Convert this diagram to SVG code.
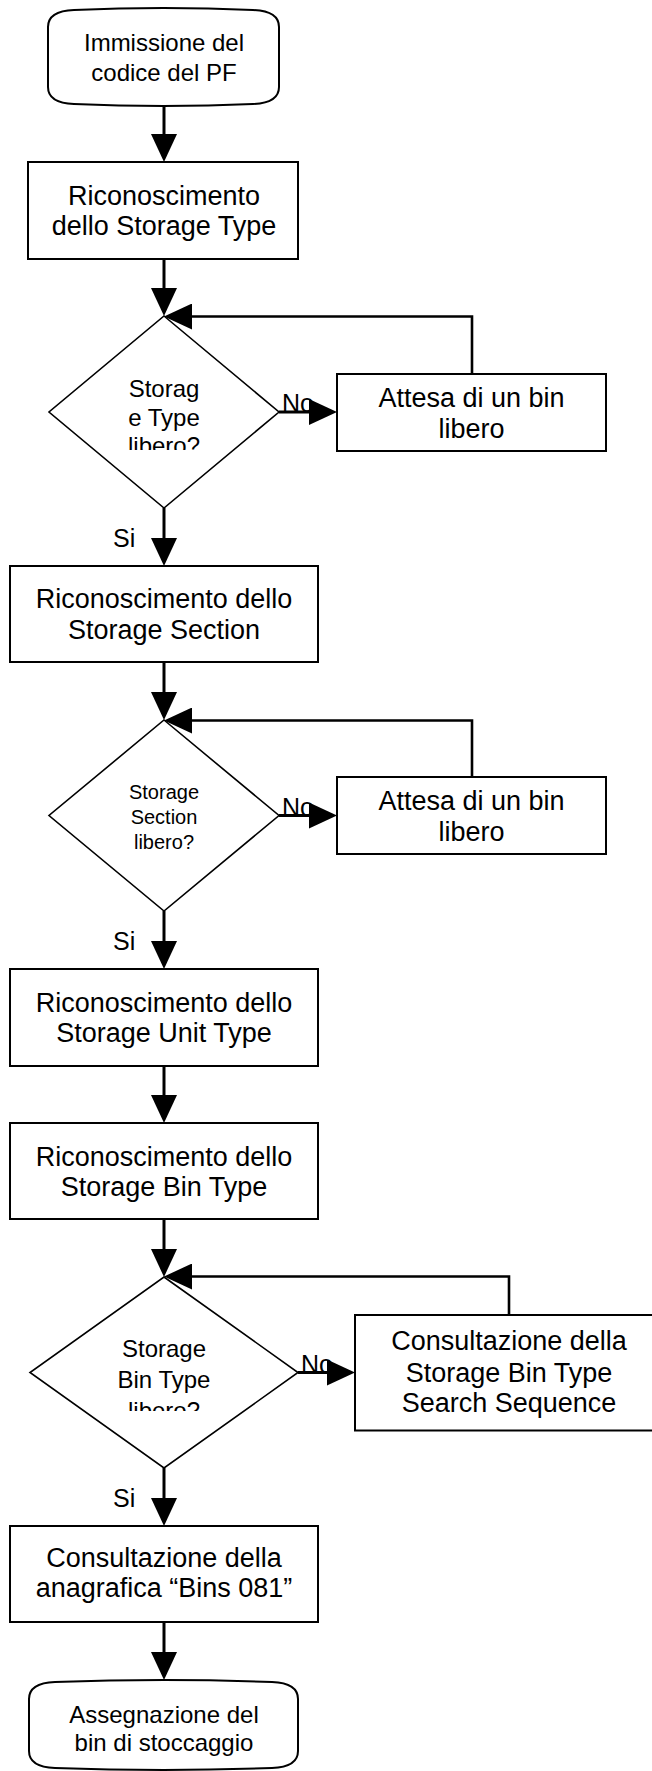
<svg xmlns="http://www.w3.org/2000/svg" width="652" height="1771" viewBox="0 0 652 1771">
  <style>
    .box { fill: #fff; stroke: #000; stroke-width: 2; }
    .term { fill: #fff; stroke: #000; stroke-width: 2; }
    .dia { fill: #fff; stroke: #000; stroke-width: 1.6; }
    .conn { fill: none; stroke: #000; stroke-width: 3; }
    .loop { fill: none; stroke: #000; stroke-width: 2.6; }
    text { font-family: "Liberation Sans", Arial, sans-serif; fill: #000; text-anchor: middle; }
    .t27 { font-size: 27px; }
    .t24 { font-size: 24px; }
    .t20 { font-size: 20px; }
    .lbl { font-size: 25px; text-anchor: start; }
  </style>
  <defs>
    <marker id="arrow" markerUnits="userSpaceOnUse" markerWidth="28" markerHeight="26" refX="22" refY="13" orient="auto">
      <path d="M0,0 L28,13 L0,26 Z" fill="#000"/>
    </marker>
    <clipPath id="clip-d1"><rect x="60" y="360" width="210" height="90"/></clipPath>
    <clipPath id="clip-d3"><rect x="60" y="1320" width="210" height="91"/></clipPath>
  </defs>

  <!-- start terminal: rounded ends with slightly bowed top and bottom -->
  <g id="start">
    <path class="term" d="M48,27 Q48,11 74,10 Q163.5,6 253,10 Q279,11 279,27 L279,87 Q279,103 253,104 Q163.5,108 74,104 Q48,103 48,87 Z"/>
    <text class="t24" x="164" y="51">Immissione del</text>
    <text class="t24" x="164" y="81">codice del PF</text>
  </g>

  <g id="storage-type">
    <rect class="box" x="28" y="162" width="270" height="97"/>
    <text class="t27" x="164" y="205">Riconoscimento</text>
    <text class="t27" x="164" y="235">dello Storage Type</text>
  </g>

  <g id="decision-type">
    <polygon class="dia" points="164,316 279,412 164,508 49,412"/>
    <g clip-path="url(#clip-d1)">
      <text class="t24" x="164" y="397">Storag</text>
      <text class="t24" x="164" y="425.5">e Type</text>
      <text class="t24" x="164" y="454">libero?</text>
    </g>
  </g>

  <g id="wait-type">
    <rect class="box" x="337" y="374" width="269" height="77"/>
    <text class="t27" x="471.5" y="406.5">Attesa di un bin</text>
    <text class="t27" x="471.5" y="438">libero</text>
  </g>

  <g id="storage-section">
    <rect class="box" x="10" y="566" width="308" height="96"/>
    <text class="t27" x="164" y="608">Riconoscimento dello</text>
    <text class="t27" x="164" y="639">Storage Section</text>
  </g>

  <g id="decision-section">
    <polygon class="dia" points="164,720 279,815.5 164,911 49,815.5"/>
    <text class="t20" x="164" y="799">Storage</text>
    <text class="t20" x="164" y="823.5">Section</text>
    <text class="t20" x="164" y="848.5">libero?</text>
  </g>

  <g id="wait-section">
    <rect class="box" x="337" y="777" width="269" height="77"/>
    <text class="t27" x="471.5" y="809.5">Attesa di un bin</text>
    <text class="t27" x="471.5" y="841">libero</text>
  </g>

  <g id="storage-unit-type">
    <rect class="box" x="10" y="969" width="308" height="97"/>
    <text class="t27" x="164" y="1011.5">Riconoscimento dello</text>
    <text class="t27" x="164" y="1042">Storage Unit Type</text>
  </g>

  <g id="storage-bin-type">
    <rect class="box" x="10" y="1123" width="308" height="96"/>
    <text class="t27" x="164" y="1165.5">Riconoscimento dello</text>
    <text class="t27" x="164" y="1196">Storage Bin Type</text>
  </g>

  <g id="decision-bin">
    <polygon class="dia" points="164,1277 298,1372.5 164,1468 30,1372.5"/>
    <g clip-path="url(#clip-d3)">
      <text class="t24" x="164" y="1357">Storage</text>
      <text class="t24" x="164" y="1388">Bin Type</text>
      <text class="t24" x="164" y="1419">libero?</text>
    </g>
  </g>

  <g id="search-sequence">
    <rect class="box" x="355" y="1315" width="308" height="115.5"/>
    <text class="t27" x="509" y="1350">Consultazione della</text>
    <text class="t27" x="509" y="1381.5">Storage Bin Type</text>
    <text class="t27" x="509" y="1412">Search Sequence</text>
  </g>

  <g id="bins-081">
    <rect class="box" x="10" y="1526" width="308" height="96"/>
    <text class="t27" x="164" y="1566.5">Consultazione della</text>
    <text class="t27" x="164" y="1596.5">anagrafica “Bins 081”</text>
  </g>

  <!-- end terminal -->
  <g id="end">
    <path class="term" d="M29,1699 Q29,1683 55,1682 Q163.5,1678 272,1682 Q298,1683 298,1699 L298,1751 Q298,1767 272,1768 Q163.5,1772 55,1768 Q29,1767 29,1751 Z"/>
    <text class="t24" x="164" y="1723">Assegnazione del</text>
    <text class="t24" x="164" y="1751">bin di stoccaggio</text>
  </g>

  <!-- branch labels -->
  <g id="labels">
    <text class="lbl" x="113" y="547">Si</text>
    <text class="lbl" x="113" y="950">Si</text>
    <text class="lbl" x="113" y="1506.5">Si</text>
    <text class="lbl" x="282" y="412">No</text>
    <text class="lbl" x="282" y="815.5">No</text>
    <text class="lbl" x="301" y="1372.5">No</text>
  </g>

  <g id="connectors">
    <line class="conn" x1="164" y1="106" x2="164" y2="156" marker-end="url(#arrow)"/>
    <line class="conn" x1="164" y1="259" x2="164" y2="310" marker-end="url(#arrow)"/>
    <line class="conn" x1="279" y1="412" x2="331" y2="412" marker-end="url(#arrow)"/>
    <polyline class="loop" points="472,374 472,316.5 170,316.5" marker-end="url(#arrow)"/>
    <line class="conn" x1="164" y1="508" x2="164" y2="560" marker-end="url(#arrow)"/>

    <line class="conn" x1="164" y1="662" x2="164" y2="714" marker-end="url(#arrow)"/>
    <line class="conn" x1="279" y1="815.5" x2="331" y2="815.5" marker-end="url(#arrow)"/>
    <polyline class="loop" points="472,777 472,720.5 170,720.5" marker-end="url(#arrow)"/>
    <line class="conn" x1="164" y1="911" x2="164" y2="963" marker-end="url(#arrow)"/>

    <line class="conn" x1="164" y1="1066" x2="164" y2="1117" marker-end="url(#arrow)"/>
    <line class="conn" x1="164" y1="1219" x2="164" y2="1271" marker-end="url(#arrow)"/>
    <line class="conn" x1="298" y1="1372.5" x2="349" y2="1372.5" marker-end="url(#arrow)"/>
    <polyline class="loop" points="509,1315 509,1276.5 170,1276.5" marker-end="url(#arrow)"/>
    <line class="conn" x1="164" y1="1468" x2="164" y2="1520" marker-end="url(#arrow)"/>

    <line class="conn" x1="164" y1="1622" x2="164" y2="1674" marker-end="url(#arrow)"/>
  </g>
</svg>
